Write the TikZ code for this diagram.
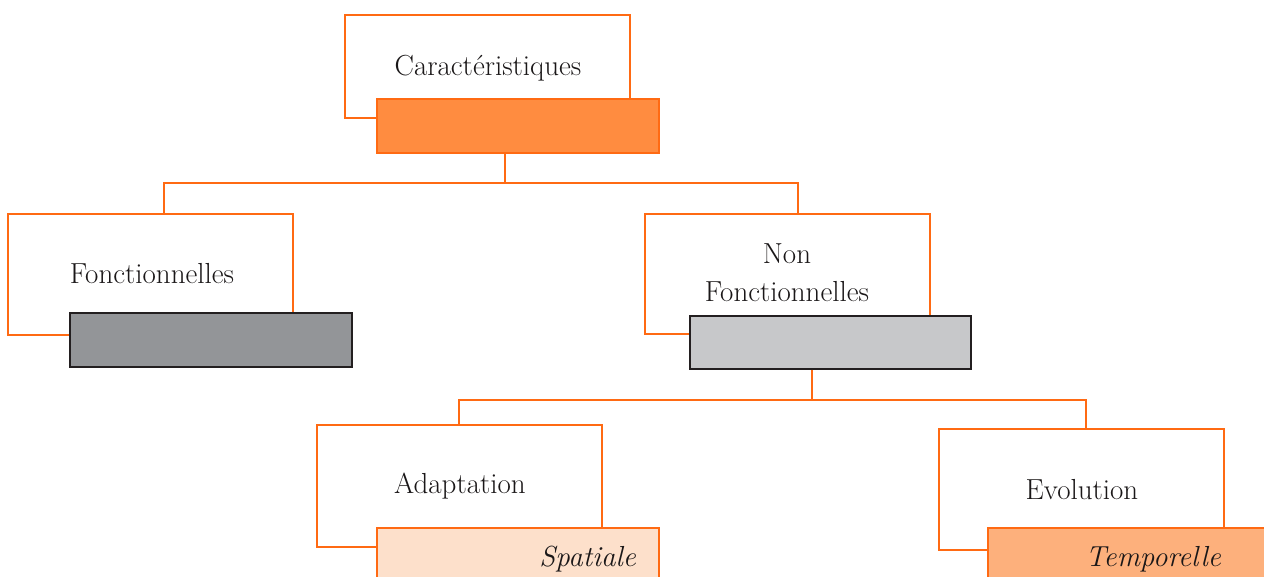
\documentclass[tikz,border=0pt]{standalone}
\usetikzlibrary{calc}
\definecolor{orangeline}{HTML}{FF6A13}
\definecolor{orangefill}{HTML}{FF8C40}
\definecolor{darkgrey}{HTML}{939598}
\definecolor{lightgrey}{HTML}{C7C8CA}
\definecolor{inkline}{HTML}{231F20}
\definecolor{peachlight}{HTML}{FDE0CB}
\definecolor{peachmid}{HTML}{FDB07C}
\definecolor{textink}{HTML}{1A1718}
\begin{document}
\begin{tikzpicture}[x=1pt,y=-1pt,
  outbox/.style={draw=orangeline,line width=1.6pt,fill=white,rectangle,inner sep=0pt},
  tagbox/.style={rectangle,inner sep=0pt,line width=1.6pt},
  conn/.style={draw=orangeline,line width=1.6pt},
  lbl/.style={text=textink,font=\fontsize{29}{38}\selectfont,align=center,inner sep=0pt},
  tag/.style={text=textink,font=\fontsize{29}{38}\selectfont\itshape,inner sep=0pt,anchor=base east}]
\useasboundingbox (0,0) rectangle (1264,576);
\clip (0,0) rectangle (1264,576);

% outline frames
\node[outbox,minimum width=285pt,minimum height=103pt] (car) at (487.5,66.5) {};
\node[outbox,minimum width=285pt,minimum height=121pt] (fonc) at (150.5,274.5) {};
\node[outbox,minimum width=285pt,minimum height=120pt] (nonf) at (787.5,274) {};
\node[outbox,minimum width=285pt,minimum height=122pt] (adap) at (459.5,486) {};
\node[outbox,minimum width=285pt,minimum height=121pt] (evol) at (1081.5,489.5) {};

% filled tabs overlapping the frames
\node[tagbox,draw=orangeline,fill=orangefill,minimum width=282pt,minimum height=54pt] (carT) at (518,126) {};
\node[tagbox,draw=inkline,fill=darkgrey,minimum width=282pt,minimum height=54pt] (foncT) at (211,340) {};
\node[tagbox,draw=inkline,fill=lightgrey,minimum width=281pt,minimum height=53pt] (nonfT) at (830.5,342.5) {};
\node[tagbox,draw=orangeline,fill=peachlight,minimum width=282pt,minimum height=70pt] (adapT) at (518,563) {};
\node[tagbox,draw=orangeline,fill=peachmid,minimum width=300pt,minimum height=70pt] (evolT) at (1138,563) {};

% labels
\node[lbl] (carL) at (488,68) {Caractéristiques};
\node[lbl] (foncL) at (152,274) {Fonctionnelles};
\node[lbl] (nonfL) at (787,273) {Non\\Fonctionnelles};
\node[lbl] (adapL) at (460,486) {Adaptation};
\node[lbl] (evolL) at (1082,490) {Evolution};
\node[tag] (adapTag) at (636,566) {Spatiale};
\node[tag] (evolTag) at (1221,566) {Temporelle};

% tree connectors
\draw[conn] ($(carT.south)+(-13,0)$) -- ++(0,29) -| ($(fonc.north)+(13.5,0)$);
\draw[conn] ($(carT.south)+(-13,0)$) -- ++(0,29) -| ($(nonf.north)+(10.5,0)$);
\draw[conn] ($(nonfT.south)+(-18.5,0)$) -- ++(0,30) -| ($(adap.north)+(-0.5,0)$);
\draw[conn] ($(nonfT.south)+(-18.5,0)$) -- ++(0,30) -| ($(evol.north)+(4.5,0)$);
\end{tikzpicture}
\end{document}
